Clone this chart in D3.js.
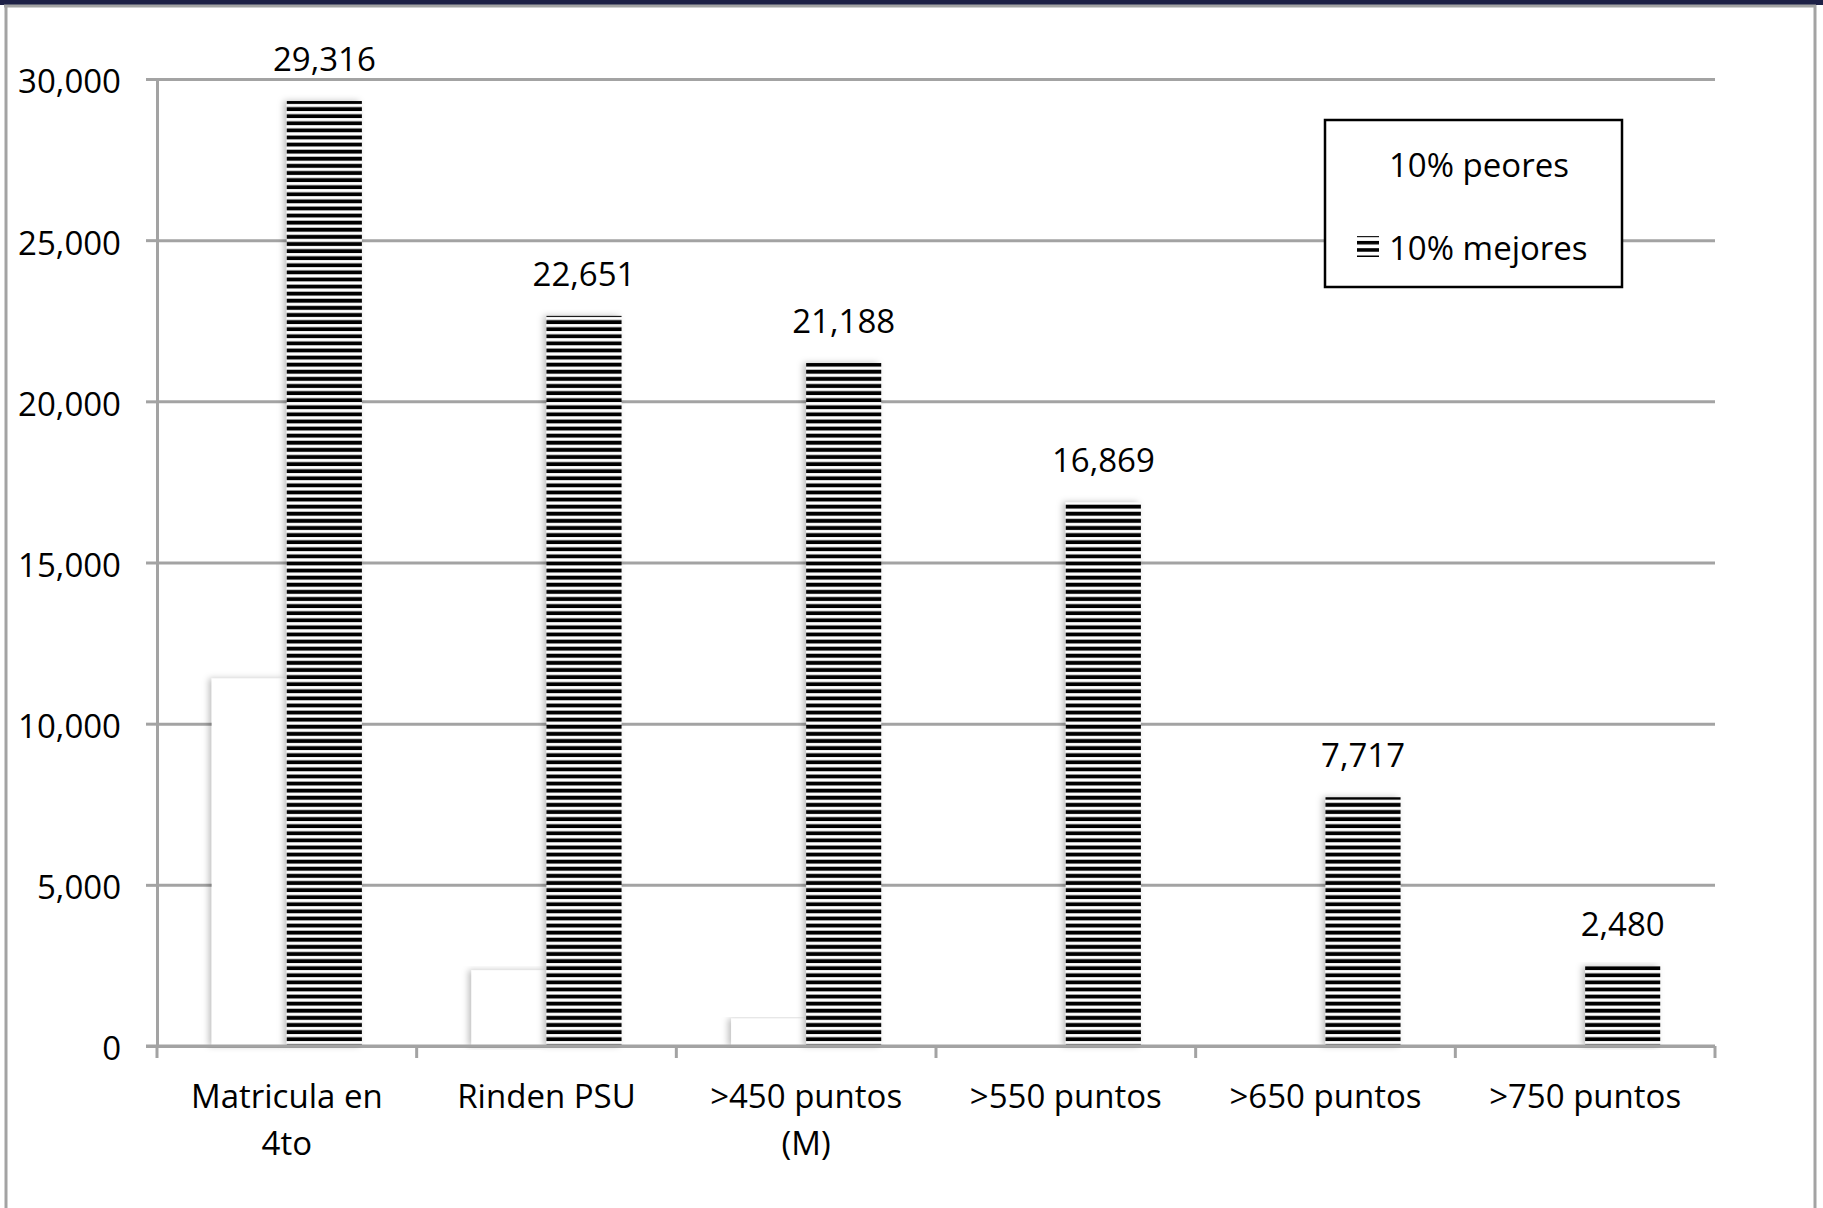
<!DOCTYPE html>
<html>
<head>
<meta charset="utf-8">
<script src="https://cdn.jsdelivr.net/npm/d3@7"></script>
<style>
  html, body { margin: 0; padding: 0; background: #ffffff; }
  svg { display: block; }
  text { font-family: "Open Sans", Lato, sans-serif; fill: #000; }
</style>
</head>
<body>
<svg id="chart" width="1823" height="1208"></svg>
<script>
const categories = ["Matricula en 4to", "Rinden PSU", ">450 puntos (M)", ">550 puntos", ">650 puntos", ">750 puntos"];
const seriesNames = ["10% peores", "10% mejores"];
const peores = [11400, 2350, 850, 0, 0, 0];
const mejores = [29316, 22651, 21188, 16869, 7717, 2480];
const yTicks = [0, 5000, 10000, 15000, 20000, 25000, 30000];

(function () {
const svg = d3.select("#chart");
const W = 1823, H = 1208;
const pLeft = 157, pRight = 1715, pTop = 79, pBottom = 1046;
const gray = "#a3a3a3";
const FS = 33;

// frame
svg.append("rect").attr("x", 0).attr("y", 0).attr("width", W).attr("height", H).attr("fill", "#fff");
svg.append("rect").attr("x", 0).attr("y", 0).attr("width", W).attr("height", 5).attr("fill", "#1d2046");
svg.append("line").attr("x1", 4).attr("x2", 1816).attr("y1", 6).attr("y2", 6).attr("stroke", gray).attr("stroke-width", 3);
svg.append("line").attr("x1", 6).attr("x2", 6).attr("y1", 5).attr("y2", H).attr("stroke", gray).attr("stroke-width", 3);
svg.append("line").attr("x1", 1815).attr("x2", 1815).attr("y1", 5).attr("y2", H).attr("stroke", gray).attr("stroke-width", 3);

const defs = svg.append("defs");
const pat = defs.append("pattern").attr("id", "stripes").attr("patternUnits", "userSpaceOnUse")
  .attr("width", 8).attr("height", 7.1);
pat.append("rect").attr("width", 8).attr("height", 7.1).attr("fill", "#fff");
pat.append("rect").attr("y", 0.6).attr("width", 8).attr("height", 3.9).attr("fill", "#000");

const legPat = defs.append("pattern").attr("id", "legstripes").attr("patternUnits", "userSpaceOnUse")
  .attr("width", 8).attr("height", 7.3);
legPat.append("rect").attr("width", 8).attr("height", 7.3).attr("fill", "#fff");
legPat.append("rect").attr("y", 0).attr("width", 8).attr("height", 3.5).attr("fill", "#000");

const sh = defs.append("filter").attr("id", "shadow").attr("x", "-20%").attr("y", "-5%").attr("width", "140%").attr("height", "110%");
sh.append("feDropShadow").attr("dx", -3).attr("dy", 0).attr("stdDeviation", 3)
  .attr("flood-color", "#000").attr("flood-opacity", 0.25);

const x = d3.scaleBand().domain(categories).range([pLeft, pRight]).padding(0);
const x1 = d3.scaleBand().domain(seriesNames).range([0, x.bandwidth()]).paddingInner(0).paddingOuter(0.73);
const y = d3.scaleLinear().domain([0, 30000]).range([pBottom, pTop]);

// gridlines
const grid = svg.append("g").attr("transform", `translate(${pLeft},0)`)
  .call(d3.axisLeft(y).tickValues(yTicks).tickSize(-(pRight - pLeft)).tickFormat(""));
grid.select(".domain").remove();
grid.selectAll("line").attr("stroke", gray).attr("stroke-width", 3);

// y axis
const yAxis = svg.append("g").attr("transform", `translate(${pLeft},0)`)
  .call(d3.axisLeft(y).tickValues(yTicks).tickSize(11).tickSizeOuter(0).tickPadding(25).tickFormat(d3.format(",")));
yAxis.select(".domain").attr("stroke", gray).attr("stroke-width", 3);
yAxis.selectAll(".tick line").attr("stroke", gray).attr("stroke-width", 3);
yAxis.selectAll(".tick text").attr("font-size", FS).attr("font-family", "'Open Sans', sans-serif")
  .attr("fill", "#000").attr("dy", "0.42em");

// bars
const groups = svg.append("g").selectAll("g").data(categories).join("g")
  .attr("transform", d => `translate(${x(d)},0)`);

groups.append("rect")
  .attr("x", x1("10% peores"))
  .attr("y", (d, i) => y(peores[i]))
  .attr("width", x1.bandwidth())
  .attr("height", (d, i) => y(0) - y(peores[i]))
  .attr("fill", "#fff")
  .attr("filter", (d, i) => peores[i] > 0 ? "url(#shadow)" : null);

groups.append("rect")
  .attr("x", x1("10% mejores"))
  .attr("y", (d, i) => y(mejores[i]))
  .attr("width", x1.bandwidth())
  .attr("height", (d, i) => y(0) - y(mejores[i]))
  .attr("fill", "url(#stripes)")
  .attr("filter", "url(#shadow)");

groups.append("text")
  .attr("x", x1("10% mejores") + x1.bandwidth() / 2)
  .attr("y", (d, i) => y(mejores[i]) - 30)
  .attr("text-anchor", "middle")
  .attr("font-size", FS)
  .text((d, i) => d3.format(",")(mejores[i]));

// x axis
const xAxis = svg.append("g").attr("transform", `translate(0,${pBottom})`)
  .call(d3.axisBottom(x).tickSize(0).tickPadding(0));
xAxis.select(".domain").attr("stroke", gray).attr("stroke-width", 3).attr("d", `M${pLeft - 11},0H${pRight}`);
xAxis.selectAll(".tick text").remove();
const bounds = categories.map(c => x(c)).concat([pRight]);
xAxis.selectAll(".btick").data(bounds).join("line").attr("class", "btick")
  .attr("x1", d => d).attr("x2", d => d).attr("y1", 0).attr("y2", 12)
  .attr("stroke", gray).attr("stroke-width", 3);

// category labels with wrapping
const labels = svg.append("g").selectAll("text").data(categories).join("text")
  .attr("x", d => x(d) + x.bandwidth() / 2)
  .attr("y", 1108)
  .attr("text-anchor", "middle")
  .attr("font-size", FS);
labels.each(function(d) {
  const t = d3.select(this);
  const words = d.split(" ");
  let line = [];
  let tspan = t.append("tspan").attr("x", t.attr("x")).attr("dy", 0);
  words.forEach(w => {
    line.push(w);
    tspan.text(line.join(" "));
    if (tspan.node().getComputedTextLength() > 235 && line.length > 1) {
      line.pop();
      tspan.text(line.join(" "));
      line = [w];
      tspan = t.append("tspan").attr("x", t.attr("x")).attr("dy", 47).text(w);
    }
  });
});

// legend
const leg = svg.append("g");
leg.append("rect").attr("x", 1325).attr("y", 120).attr("width", 297).attr("height", 167)
  .attr("fill", "#fff").attr("stroke", "#000").attr("stroke-width", 2.5);
leg.append("rect").attr("x", 1357).attr("y", 154).attr("width", 22).attr("height", 22).attr("fill", "#fff");
leg.append("rect").attr("x", 1357).attr("y", 236).attr("width", 22).attr("height", 21).attr("fill", "url(#legstripes)");
leg.append("text").attr("x", 1389).attr("y", 177).attr("font-size", FS).text(seriesNames[0]);
leg.append("text").attr("x", 1389).attr("y", 260).attr("font-size", FS).text(seriesNames[1]);
})();
</script>
</body>
</html>
